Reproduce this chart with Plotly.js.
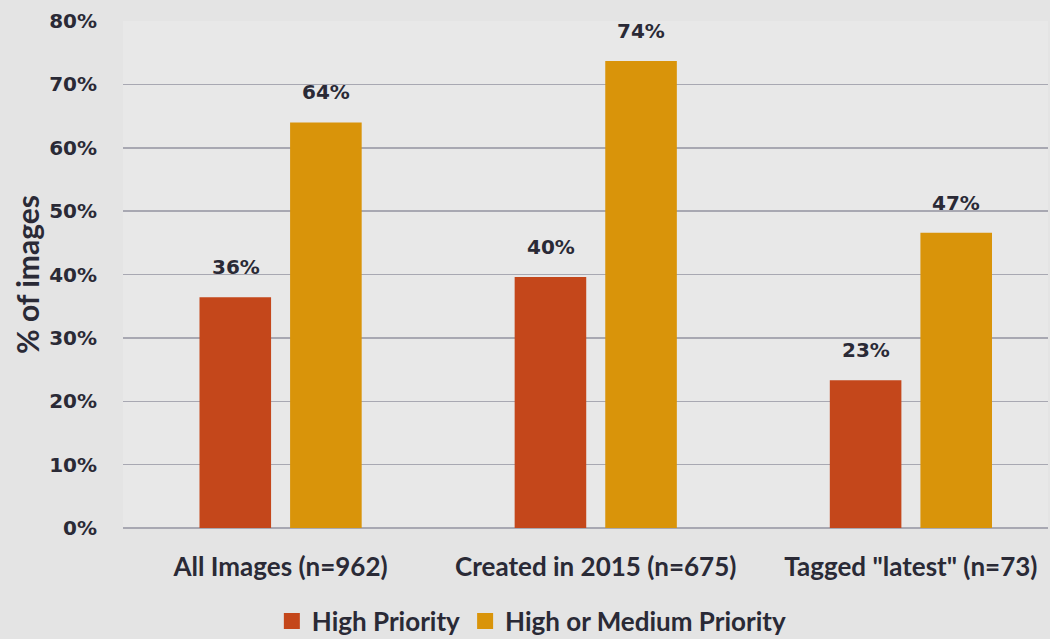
<!DOCTYPE html>
<html>
<head>
<meta charset="utf-8">
<script src="https://cdn.plot.ly/plotly-3.0.1.min.js"></script>
<style>
html,body{margin:0;padding:0;background:#e5e5e5;}
#chart{width:1050px;height:639px;}
</style>
</head>
<body>
<div id="chart"></div>
<script>
var categories = ['All Images (n=962)', 'Created in 2015 (n=675)', 'Tagged "latest" (n=73)'];
var seriesNames = ['High Priority', 'High or Medium Priority'];
var highPriority = [36.4, 39.6, 23.3];
var highOrMedium = [64.0, 73.7, 46.6];
var yTickVals = [0, 10, 20, 30, 40, 50, 60, 70, 80];
var yTickText = ['0%', '10%', '20%', '30%', '40%', '50%', '60%', '70%', '80%'];
var colors = ['#c4471b', '#d9940a'];

var textColor = '#2a2a36';
var labelFont = {family: 'DejaVu Sans', size: 20, color: textColor, weight: 'bold'};
var series = [highPriority, highOrMedium];

var traces = series.map(function (vals, i) {
  return {
    type: 'bar', name: seriesNames[i], x: categories, y: vals,
    marker: {color: colors[i]}, showlegend: false, hoverinfo: 'skip',
    offsetgroup: String(i)
  };
});
// legend entries (square markers)
seriesNames.forEach(function (n, i) {
  traces.push({
    type: 'scatter', mode: 'markers', name: n, x: [null], y: [null],
    marker: {symbol: 'square', size: 16, color: colors[i]}, hoverinfo: 'skip'
  });
});

// value labels above bars
var annotations = [];
series.forEach(function (vals, i) {
  vals.forEach(function (v, j) {
    annotations.push({
      x: categories[j], y: v, xref: 'x', yref: 'y',
      xshift: (i === 0 ? -45 : 45), yshift: 30,
      text: '<b>' + Math.round(v) + '%</b>', showarrow: false,
      xanchor: 'center', yanchor: 'middle', font: labelFont
    });
  });
});

var layout = {
  width: 1050, height: 639,
  margin: {l: 123, r: 2, t: 21, b: 111},
  paper_bgcolor: '#e4e4e4',
  plot_bgcolor: '#e8e8e8',
  barmode: 'group',
  bargap: 0.425,
  bargroupgap: 0.21,
  showlegend: true,
  annotations: annotations,
  legend: {
    orientation: 'h', xref: 'paper', x: 0.442, xanchor: 'center',
    yref: 'container', y: 0.028, yanchor: 'middle',
    font: {family: 'Lato', size: 26, color: textColor, weight: 'bold'},
    bgcolor: 'rgba(0,0,0,0)', itemwidth: 30, traceorder: 'normal'
  },
  xaxis: {
    type: 'category', range: [-0.5, 2.435],
    tickfont: {family: 'Lato', size: 26, color: textColor, weight: 'bold'},
    showgrid: false, zeroline: false, showline: false, ticks: '',
    ticklabelstandoff: 21
  },
  yaxis: {
    range: [0, 80], tickvals: yTickVals, ticktext: yTickText,
    tickfont: {family: 'DejaVu Sans', size: 20, color: textColor, weight: 'bold'},
    showgrid: true, gridcolor: '#a8a8b2', gridwidth: 1.5,
    zeroline: true, zerolinecolor: '#a8a8b2', zerolinewidth: 1.5,
    showline: false, ticks: '', ticklabelstandoff: 25,
    title: {text: '% of images', font: {family: 'Lato', size: 30, color: textColor, weight: 'bold'}, standoff: 0}
  }
};

Plotly.newPlot('chart', traces, layout, {displayModeBar: false, staticPlot: true});
</script>
</body>
</html>
